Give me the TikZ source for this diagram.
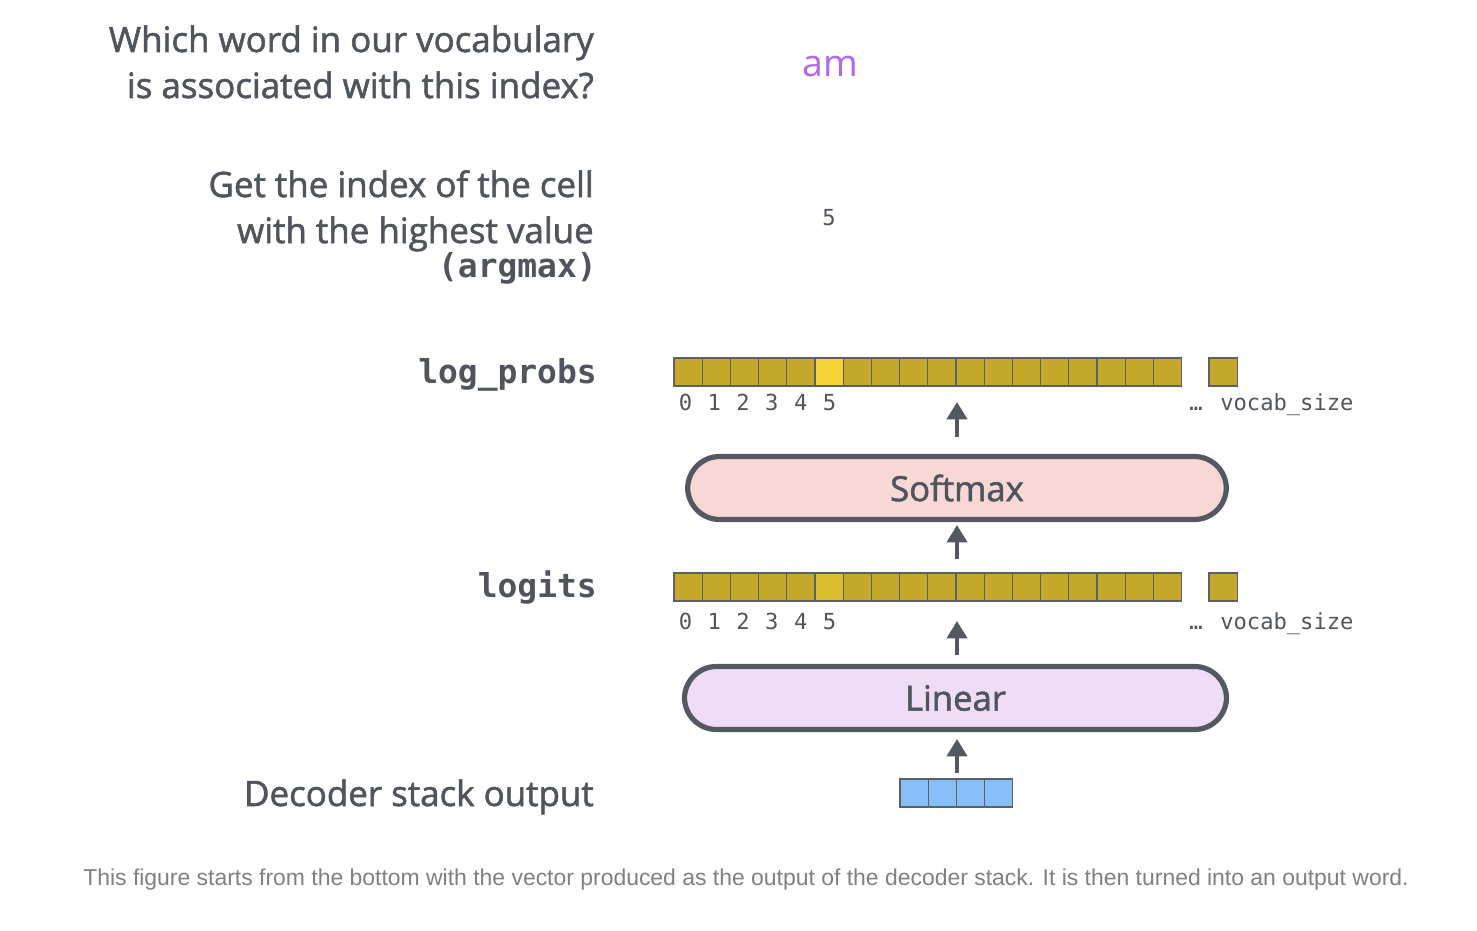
\documentclass[tikz,border=0pt]{standalone}
\usepackage{fontspec}
\setmainfont{Open Sans}
\setmonofont{DejaVu Sans Mono}
\newfontfamily\capfont{Liberation Sans}
\newfontfamily\semifont{Open Sans}[UprightFeatures={FakeBold=1.6}]
\usetikzlibrary{arrows.meta}
\definecolor{lblgray}{HTML}{50555D}
\definecolor{cellgold}{HTML}{C5A82A}
\definecolor{hilite}{HTML}{F5D334}
\definecolor{hilitetwo}{HTML}{DDBE2E}
\definecolor{cellborder}{HTML}{5B6068}
\definecolor{boxborder}{HTML}{545861}
\definecolor{vecblue}{HTML}{88BEF7}
\definecolor{pinkfill}{HTML}{F8D8D7}
\definecolor{lavfill}{HTML}{EFDDF7}
\definecolor{wordpurple}{HTML}{B266E8}
\definecolor{capgray}{HTML}{808080}
\tikzset{
  cellbox/.style={draw=cellborder, line width=0.9pt, fill=cellgold, minimum width=21.15pt, minimum height=21pt, inner sep=0pt},
  bluecell/.style={cellbox, fill=vecblue},
  layerbox/.style={draw=boxborder, line width=3.9pt, rounded corners=24pt, minimum height=47.25pt, inner sep=0pt, text=lblgray, font=\semifont\fontsize{26}{30}\selectfont},
  sidelabel/.style={anchor=base east, text=lblgray, inner sep=0pt, font=\semifont\fontsize{26.2}{30}\selectfont},
  monolabel/.style={anchor=base east, text=lblgray, inner sep=0pt, font=\fontsize{24.7}{28}\selectfont\ttfamily\bfseries},
  idx/.style={anchor=base, text=lblgray, inner sep=0pt, font=\fontsize{16.6}{20}\selectfont\ttfamily},
  uparrow/.style={draw=boxborder, line width=3pt, -{Triangle[width=15pt,length=13pt]}},
}
\begin{document}
\begin{tikzpicture}[x=0.75pt,y=-0.75pt]
\useasboundingbox (0,0) rectangle (1477,931);
% left labels
\node[sidelabel] (q1) at (594,52) {Which word in our vocabulary};
\node[sidelabel] (q2) at (594,98) {is associated with this index?};
\node[sidelabel] (g1) at (594,197) {Get the index of the cell};
\node[sidelabel] (g2) at (594,243) {with the highest value};
\node[monolabel] (g3) at (597,277) {(argmax)};
\node[monolabel] (lpl) at (597,383) {log\_probs};
\node[monolabel] (lgl) at (597,597) {logits};
\node[sidelabel] (dsl) at (594,806) {Decoder stack output};
% results
\node[anchor=base, text=wordpurple, inner sep=0pt, font=\fontsize{28}{32}\selectfont] (am) at (830,76) {am};
\node[idx] (five) at (829,225) {5};
% log_probs row
\foreach \i in {0,...,17} {
  \node[cellbox] (lp\i) at (688.1+\i*28.2,372) {};
}
\node[cellbox, fill=hilite] at (lp5) {};
\node[cellbox] (lpN) at (1223,372) {};
\foreach \i in {0,...,5} {
  \node[idx] (lpd\i) at (685.5+\i*28.8,410) {\i};
}
\node[idx] (lpe) at (1196,410) {…};
\node[idx, anchor=base west] (lpv) at (1220,410) {vocab\_size};
% logits row
\foreach \i in {0,...,17} {
  \node[cellbox] (lg\i) at (688.1+\i*28.2,587) {};
}
\node[cellbox, fill=hilitetwo] at (lg5) {};
\node[cellbox] (lgN) at (1223,587) {};
\foreach \i in {0,...,5} {
  \node[idx] (lgd\i) at (685.5+\i*28.8,629) {\i};
}
\node[idx] (lge) at (1196,629) {…};
\node[idx, anchor=base west] (lgv) at (1220,629) {vocab\_size};
% layers
\node[layerbox, fill=pinkfill, minimum width=404pt] (smx) at (957,488) {Softmax};
\node[layerbox, fill=lavfill, minimum width=406.5pt] (lin) at (955.5,698) {Linear};
% decoder output vector
\foreach \i in {0,...,3} {
  \node[bluecell] (dv\i) at (914.1+\i*28.2,793) {};
}
% anchor points for arrows
\coordinate (decTop) at (957,773);
\coordinate (linTop) at (957,655);
\coordinate (lgTip) at (957,621);
\coordinate (lgTop) at (957,559);
\coordinate (smxTop) at (957,437);
\coordinate (lpTip) at (957,402);
\coordinate (linBot) at (957,739);
\coordinate (smxBot) at (957,525);
\draw[uparrow] (decTop) -- (linBot);
\draw[uparrow] (linTop) -- (lgTip);
\draw[uparrow] (lgTop) -- (smxBot);
\draw[uparrow] (smxTop) -- (lpTip);
% caption
\node[anchor=base, text=capgray, inner sep=0pt, font=\capfont\fontsize{17.2}{20}\selectfont] (cap) at (746,885) {This figure starts from the bottom with the vector produced as the output of the decoder stack. It is then turned into an output word.};
\end{tikzpicture}
\end{document}
